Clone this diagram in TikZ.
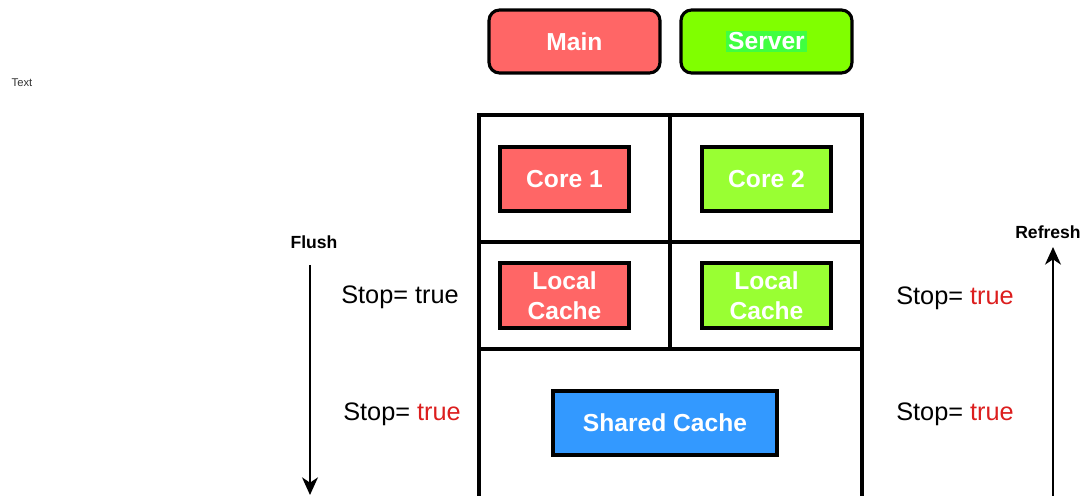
\documentclass[tikz,border=0pt]{standalone}
\usepackage{fontspec}
\setmainfont{Liberation Sans}
\usetikzlibrary{arrows.meta}
\definecolor{mainred}{RGB}{255,102,102}
\definecolor{srvgreen}{RGB}{128,255,0}
\definecolor{hlgreen}{RGB}{64,255,64}
\definecolor{coregreen}{RGB}{153,255,51}
\definecolor{sharedblue}{RGB}{51,153,255}
\definecolor{truered}{RGB}{220,30,30}
\tikzset{
  unit/.style={draw=black, line width=1.8pt, text=white, font=\bfseries\fontsize{14}{17}\selectfont,
    align=center, inner sep=0pt},
  stoplabel/.style={font=\fontsize{14.4}{16}\selectfont, inner sep=0pt}
}
\begin{document}
\begin{tikzpicture}[x=0.02cm, y=-0.02cm]
\useasboundingbox (0,0) rectangle (1085,496);
  \node[unit, rounded corners=6pt, fill=mainred, minimum width=3.42cm, minimum height=1.26cm]
    (main) at (574.5,41.5) {Main};
  \node[unit, rounded corners=6pt, fill=srvgreen, minimum width=3.42cm, minimum height=1.26cm]
    (server) at (766.5,41.5) {\setlength{\fboxsep}{1pt}\colorbox{hlgreen}{Server}};
  \node[font=\fontsize{6.4}{8}\selectfont, text=black!80, inner sep=0pt] (note) at (22,83) {Text};
  % the frame
  \draw[line width=1.9pt] (479,496) -- (479,115) -- (862,115) -- (862,496);
  \draw[line width=1.9pt] (479,242) -- (862,242);
  \draw[line width=1.9pt] (479,349) -- (862,349);
  \draw[line width=1.9pt] (670,115) -- (670,349);
  \node[unit, fill=mainred, minimum width=2.58cm, minimum height=1.28cm] (core1) at (564.5,179) {Core 1};
  \node[unit, fill=coregreen, minimum width=2.58cm, minimum height=1.28cm] (core2) at (766.5,179) {Core 2};
  \node[unit, fill=mainred, minimum width=2.58cm, minimum height=1.30cm] (local1) at (564.5,295.5) {Local\\Cache};
  \node[unit, fill=coregreen, minimum width=2.58cm, minimum height=1.30cm] (local2) at (766.5,295.5) {Local\\Cache};
  \node[unit, fill=sharedblue, minimum width=4.48cm, minimum height=1.28cm] (shared) at (665,423) {Shared Cache};
  % stop flags
  \node[stoplabel] (stopl1) at (400,297) {Stop= true};
  \node[stoplabel] (stopl2) at (402,414) {Stop= \textcolor{truered}{true}};
  \node[stoplabel] (stopr1) at (955,298) {Stop= \textcolor{truered}{true}};
  \node[stoplabel] (stopr2) at (955,414) {Stop= \textcolor{truered}{true}};
  % flush / refresh
  \node[font=\bfseries\fontsize{10}{12}\selectfont, inner sep=0pt] (flush) at (314,242) {Flush};
  \node[font=\bfseries\fontsize{10}{12}\selectfont, inner sep=0pt] (refresh) at (1048,232) {Refresh};
  \coordinate (flushend) at (310,495);
  \coordinate (refreshstart) at (1053,496);
  \draw[line width=1.5pt, -{Stealth[length=10pt, width=9pt, inset=3pt]}] (310,265) -- (flushend);
  \draw[line width=1.5pt, -{Stealth[length=10pt, width=9pt, inset=3pt]}] (refreshstart) -- (1053,247);
\end{tikzpicture}
\end{document}
